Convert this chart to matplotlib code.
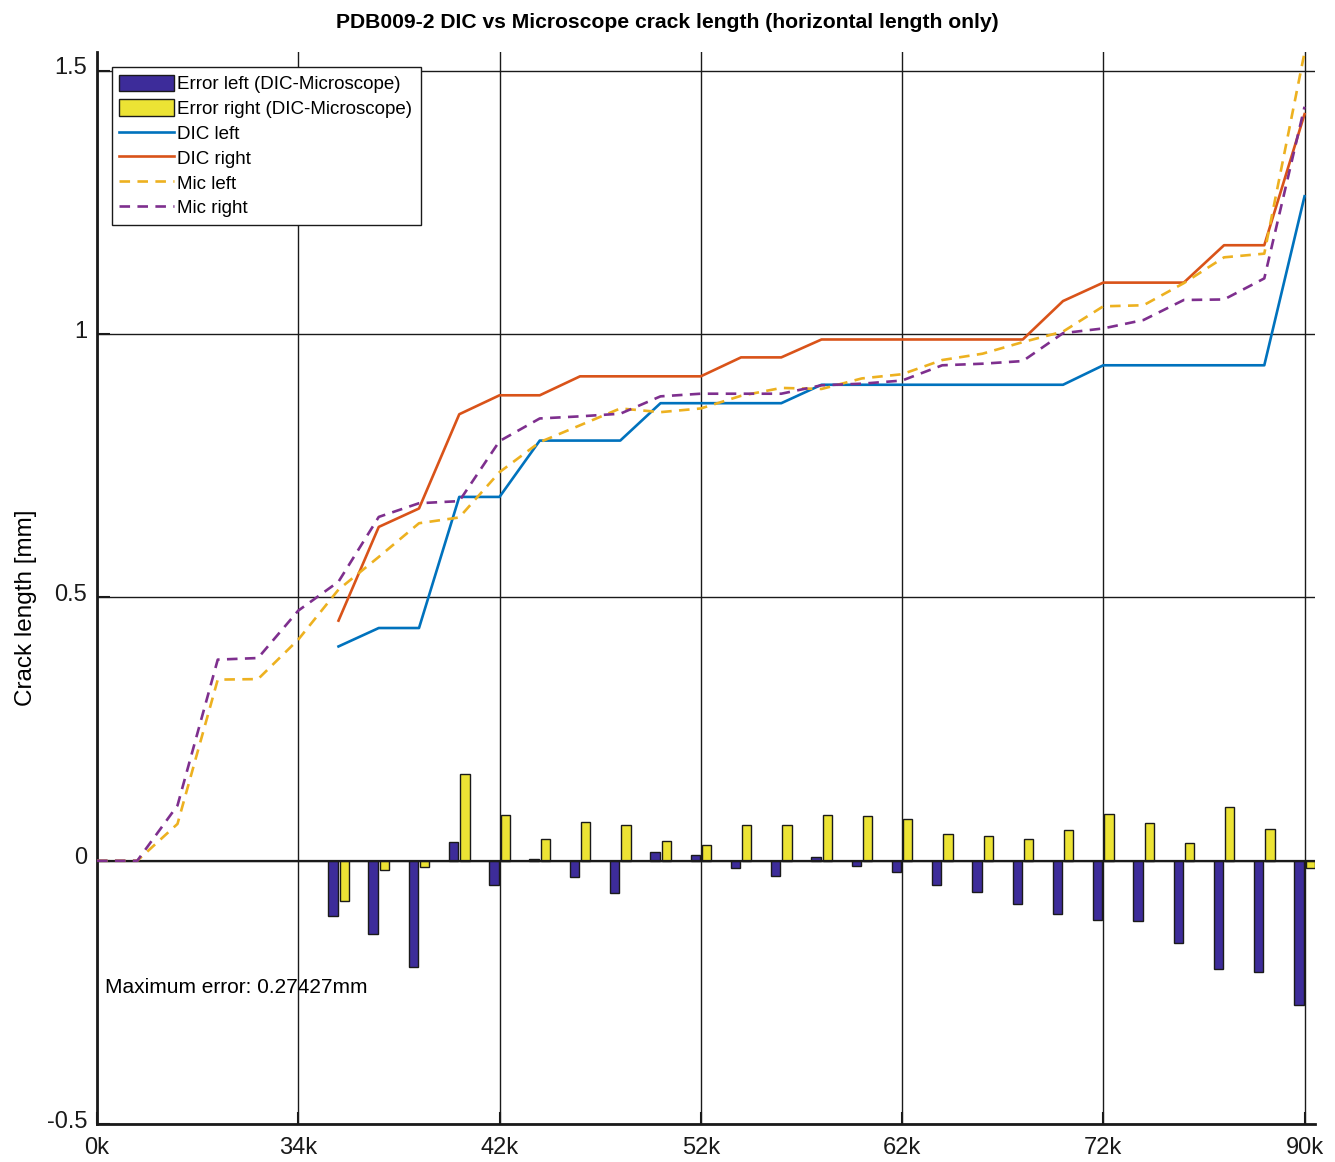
import matplotlib
matplotlib.use("Agg")
import matplotlib.pyplot as plt
import matplotlib.transforms as mtransforms
import numpy as np

plt.rcParams['font.family'] = ['Liberation Sans', 'DejaVu Sans']

# ---- data ----
x_all = np.arange(31)
x_dic = np.arange(6, 31)
tick_pos = [0, 5, 10, 15, 20, 25, 30]
tick_labels = ['0k', '34k', '42k', '52k', '62k', '72k', '90k']

mic_left = [0, 0, 0.07, 0.344, 0.345, 0.42, 0.515, 0.577, 0.641, 0.652,
            0.738, 0.795, 0.827, 0.859, 0.852, 0.859, 0.883, 0.898, 0.896, 0.916,
            0.924, 0.951, 0.963, 0.985, 1.005, 1.053, 1.055, 1.097, 1.146, 1.153,
            1.535]
mic_right = [0, 0, 0.105, 0.382, 0.385, 0.475, 0.53, 0.653, 0.679, 0.683,
             0.797, 0.840, 0.844, 0.849, 0.882, 0.887, 0.887, 0.887, 0.903, 0.906,
             0.912, 0.941, 0.944, 0.949, 1.002, 1.011, 1.027, 1.065, 1.066, 1.106,
             1.432]
dic_left = [0.407, 0.442, 0.442, 0.691, 0.691, 0.798, 0.798, 0.798, 0.869, 0.869,
            0.869, 0.869, 0.904, 0.904, 0.904, 0.904, 0.904, 0.904, 0.904, 0.941,
            0.941, 0.941, 0.941, 0.941, 1.262]
dic_right = [0.456, 0.634, 0.669, 0.848, 0.884, 0.884, 0.920, 0.920, 0.920, 0.920,
             0.956, 0.956, 0.990, 0.990, 0.990, 0.990, 0.990, 0.990, 1.063, 1.098,
             1.098, 1.098, 1.169, 1.169, 1.418]
err_left = [-0.105, -0.140, -0.201, 0.036, -0.047, 0.004, -0.031, -0.061, 0.017, 0.011,
            -0.013, -0.029, 0.008, -0.010, -0.021, -0.047, -0.059, -0.082, -0.101, -0.113,
            -0.115, -0.156, -0.206, -0.212, -0.274]
err_right = [-0.076, -0.018, -0.011, 0.165, 0.086, 0.041, 0.074, 0.068, 0.037, 0.030,
             0.067, 0.068, 0.087, 0.085, 0.080, 0.050, 0.047, 0.042, 0.059, 0.088,
             0.071, 0.033, 0.103, 0.061, -0.013]
max_err_text = 'Maximum error: 0.27427mm'
title = 'PDB009-2 DIC vs Microscope crack length (horizontal length only)'

# ---- figure ----
fig = plt.figure(figsize=(13.35, 11.62), dpi=100)
ax = fig.add_axes([97/1335, 1-1124/1162, 1218/1335, 1072/1162])

bw = 0.23
off = 0.14
b1 = ax.bar(x_dic - off, err_left, width=bw, color='#3D2C9A', edgecolor='#1a1a1a', linewidth=1.0,
            label='Error left (DIC-Microscope)', zorder=3)
b2 = ax.bar(x_dic + off, err_right, width=bw, color='#ECE334', edgecolor='#1a1a1a', linewidth=1.0,
            label='Error right (DIC-Microscope)', zorder=3)

l1, = ax.plot(x_dic, dic_left, color='#0072BD', lw=1.9, label='DIC left', zorder=4)
l2, = ax.plot(x_dic, dic_right, color='#D95319', lw=1.9, label='DIC right', zorder=4)
l3, = ax.plot(x_all, mic_left, color='#EDB120', lw=1.9, dashes=(4, 2.8), label='Mic left', zorder=4)
l4, = ax.plot(x_all, mic_right, color='#7E2F8E', lw=1.9, dashes=(4, 2.8), label='Mic right', zorder=4)

ax.axhline(0, color='#1a1a1a', lw=1.6, zorder=3.5)

ax.set_xlim(0, 30.26)
ax.set_ylim(-0.5, 1.536)
ax.set_xticks(tick_pos)
ax.set_xticklabels(tick_labels)
ax.set_yticks([-0.5, 0, 0.5, 1, 1.5])
ax.set_yticklabels(['-0.5', '0', '0.5', '1', '1.5'])
ax.tick_params(direction='in', length=9, width=1.5, labelsize=17, pad=7, colors='#1a1a1a')
ax.tick_params(axis='x', pad=9)
shift = mtransforms.ScaledTranslation(0, 5/100, fig.dpi_scale_trans)
for lab in ax.get_yticklabels():
    lab.set_transform(lab.get_transform() + shift)

ax.grid(True, color='#1a1a1a', lw=1.0, alpha=1)
ax.set_axisbelow(True)
for s in ['top', 'right']:
    ax.spines[s].set_visible(False)
for s in ['left', 'bottom']:
    ax.spines[s].set_linewidth(2.0)
    ax.spines[s].set_color('#1a1a1a')

ax.set_ylabel('Crack length [mm]', fontsize=17.5)
ax.yaxis.set_label_coords(-0.049, 0.482)
fig.text(0.5, 1 - 22/1162, title, ha='center', va='center', fontsize=15.2, fontweight='bold')
ax.text(0.2, -0.241, max_err_text, fontsize=15, ha='left', va='center')

leg = ax.legend(handles=[b1, b2, l1, l2, l3, l4], loc='upper left',
                bbox_to_anchor=(0.0123, 0.4, 0.2537, 0.586), mode='expand', fontsize=13.5,
                frameon=True, fancybox=False, framealpha=1, edgecolor='#1a1a1a',
                handlelength=2.9, handleheight=1.0, handletextpad=0.15,
                labelspacing=0.32, borderpad=0.4, borderaxespad=0)
leg.get_frame().set_linewidth(1.0)

fig.savefig('out.png', dpi=100)
